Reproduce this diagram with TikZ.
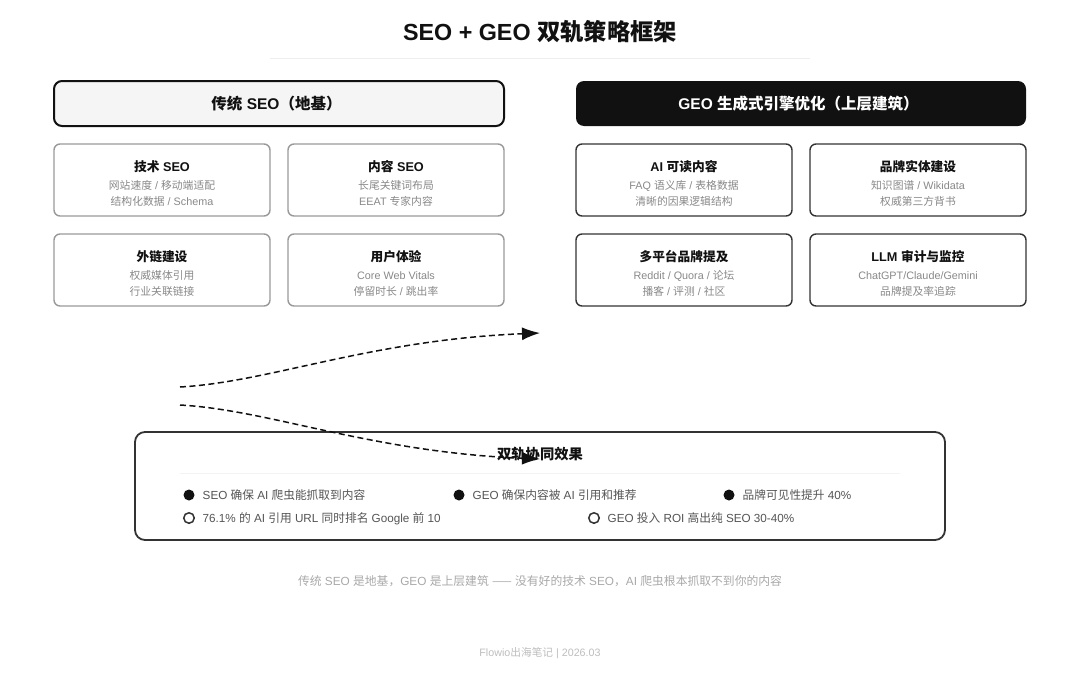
\documentclass[tikz,border=0pt]{standalone}
\usepackage{fontspec}
\setmainfont{Liberation Sans}
\newfontfamily\cjk{Noto Sans CJK SC}
\newcommand{\zh}[1]{{\cjk #1}}
\newcommand{\cardtext}[3]{\rule{0pt}{17.5pt}{\fontsize{12.7}{16}\selectfont\bfseries\color{ink}#1}\\[1.5pt]#2\\#3}
\usetikzlibrary{arrows.meta}
\definecolor{ink}{HTML}{111111}
\definecolor{softgray}{HTML}{999999}
\definecolor{darkline}{HTML}{333333}
\definecolor{subtext}{HTML}{888888}
\definecolor{itemtext}{HTML}{555555}
\definecolor{rulegray}{HTML}{EEEEEE}
\definecolor{headfill}{HTML}{F5F5F5}
\begin{document}
\begin{tikzpicture}[x=1pt, y=-1pt,
    head/.style={rectangle, rounded corners=8pt, minimum width=450pt, minimum height=45pt, inner sep=0pt, text height=14pt, text depth=2pt, font=\fontsize{15.5}{20}\selectfont\bfseries},
    card/.style={rectangle, rounded corners=6pt, line width=1.4pt, minimum width=216pt, minimum height=72pt, inner sep=0pt, align=center, text=subtext, font=\fontsize{10.8}{16}\selectfont},
    seocard/.style={card, draw=softgray},
    geocard/.style={card, draw=darkline},
    item/.style={anchor=west, inner sep=0pt, text=itemtext, text height=10pt, text depth=1.5pt, font=\fontsize{11.7}{14}\selectfont},
    dotfull/.style={circle, fill=ink, minimum size=11pt, inner sep=0pt},
    dotopen/.style={circle, draw=darkline, line width=1.5pt, minimum size=10.5pt, inner sep=0pt},
    flow/.style={draw=ink, line width=1.5pt, dash pattern=on 6pt off 3.5pt, -{Latex[length=18pt,width=13pt]}}]
  \useasboundingbox (0,0) rectangle (1080,675);

  \node[font=\fontsize{23.3}{28}\selectfont\bfseries, text=ink] (title) at (540,32) {SEO + GEO \zh{双轨策略框架}};
  \coordinate (rulea) at (270,58);
  \coordinate (ruleb) at (810,58);
  \draw[rulegray, line width=1pt] (rulea) -- (ruleb);

  \node[head, draw=ink, line width=2pt, fill=headfill, text=ink] (seo) at (279,103.5) {\zh{传统} SEO\zh{（地基）}\kern5pt};
  \node[head, fill=ink, text=white] (geo) at (801,103.5) {GEO \zh{生成式引擎优化（上层建筑）}\kern5pt};

  \node[seocard] (tech) at (162,180) {\cardtext{\zh{技术} SEO}{\zh{网站速度} / \zh{移动端适配}}{\zh{结构化数据} / Schema}};
  \node[seocard] (content) at (396,180) {\cardtext{\zh{内容} SEO}{\zh{长尾关键词布局}}{EEAT \zh{专家内容}}};
  \node[seocard] (links) at (162,270) {\cardtext{\zh{外链建设}}{\zh{权威媒体引用}}{\zh{行业关联链接}}};
  \node[seocard] (ux) at (396,270) {\cardtext{\zh{用户体验}}{Core Web Vitals}{\zh{停留时长} / \zh{跳出率}}};

  \node[geocard] (readable) at (684,180) {\cardtext{AI \zh{可读内容}}{FAQ \zh{语义库} / \zh{表格数据}}{\zh{清晰的因果逻辑结构}}};
  \node[geocard] (entity) at (918,180) {\cardtext{\zh{品牌实体建设}}{\zh{知识图谱} / Wikidata}{\zh{权威第三方背书}}};
  \node[geocard] (platform) at (684,270) {\cardtext{\zh{多平台品牌提及}}{Reddit / Quora / \zh{论坛}}{\zh{播客} / \zh{评测} / \zh{社区}}};
  \node[geocard] (audit) at (918,270) {\cardtext{LLM \zh{审计与监控}}{ChatGPT/Claude/Gemini}{\zh{品牌提及率追踪}}};

  \node[rectangle, rounded corners=10pt, draw=darkline, fill=white, line width=1.8pt, minimum width=810pt, minimum height=108pt, inner sep=0pt] (effect) at (540,486) {};
  \coordinate (rulec) at (180,473);
  \coordinate (ruled) at (900,473);
  \draw[rulegray!70, line width=1pt] (rulec) -- (ruled);
  \node[font=\fontsize{14.3}{16}\selectfont\bfseries, text=ink] (effecttitle) at (540,454) {\zh{双轨协同效果}};

  % two dashed curves
  \coordinate (upa) at (180,387);
  \coordinate (upb) at (540,333);
  \coordinate (downa) at (180,405);
  \coordinate (downb) at (540,459);
  \draw[flow] (upa) .. controls (270,382) and (370,340) .. (upb);
  \draw[flow] (downa) .. controls (270,410) and (370,452) .. (downb);

  \node[dotfull] (dota) at (189,495) {};
  \node[item] (itema) at (202.5,495) {SEO \zh{确保} AI \zh{爬虫能抓取到内容}};
  \node[dotfull] (dotb) at (459,495) {};
  \node[item] (itemb) at (472.5,495) {GEO \zh{确保内容被} AI \zh{引用和推荐}};
  \node[dotfull] (dotc) at (729,495) {};
  \node[item] (itemc) at (742.5,495) {\zh{品牌可见性提升} 40\%};
  \node[dotopen] (dotd) at (189,518) {};
  \node[item] (itemd) at (202.5,518) {76.1\% \zh{的} AI \zh{引用} URL \zh{同时排名} Google \zh{前} 10};
  \node[dotopen] (dote) at (594,518) {};
  \node[item] (iteme) at (607.5,518) {GEO \zh{投入} ROI \zh{高出纯} SEO 30-40\%};

  \node[text=softgray!85, font=\fontsize{11.8}{14}\selectfont] (note) at (540,581) {\zh{传统} SEO \zh{是地基，}GEO \zh{是上层建筑} \zh{——} \zh{没有好的技术} SEO\zh{，}AI \zh{爬虫根本抓取不到你的内容}};
  \node[text=softgray!65, font=\fontsize{10.7}{12}\selectfont] (foot) at (540,653) {Flowio\zh{出海笔记} | 2026.03};
\end{tikzpicture}
\end{document}
